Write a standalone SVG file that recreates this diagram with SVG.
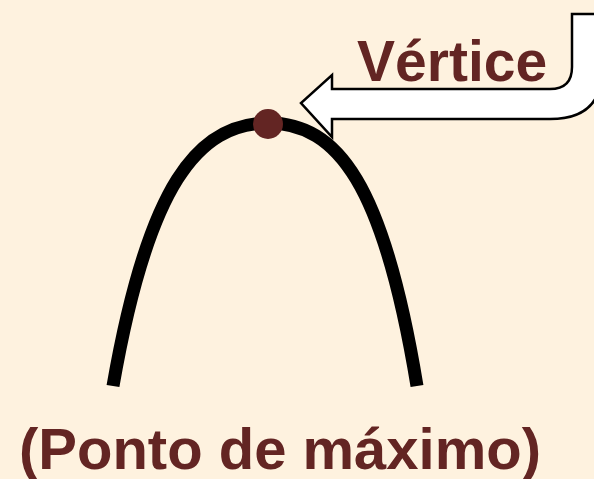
<svg xmlns="http://www.w3.org/2000/svg" width="594" height="479" viewBox="0 0 594 479">
<style>
.lbl{font-family:"Liberation Sans",Arial,sans-serif;font-weight:bold;fill:#632523}
</style>
<rect width="594" height="479" fill="#FEF2DF"/>
<g id="curve">
<path d="M113,386 C148,185 198,123 268,123 C338,123 384,185 417,386" fill="none" stroke="#000" stroke-width="13"/>
</g>
<g id="vertex">
<circle cx="268" cy="124" r="15" fill="#632523"/>
</g>
<g id="connectors">
<path d="M600,14 L572,14 L572,67 Q572,89 550,89 L332,89 L332,75 L301,103 L332,137 L332,119 L550,119 Q602,119 602,70" fill="#fff" stroke="#000" stroke-width="2.5" stroke-linejoin="miter"/>
</g>
<g id="label-vertice">
<text class="lbl" x="357" y="81" font-size="57">Vértice</text>
</g>
<g id="label-max">
<text class="lbl" x="19" y="469" font-size="58">(Ponto de máximo)</text>
</g>
</svg>
